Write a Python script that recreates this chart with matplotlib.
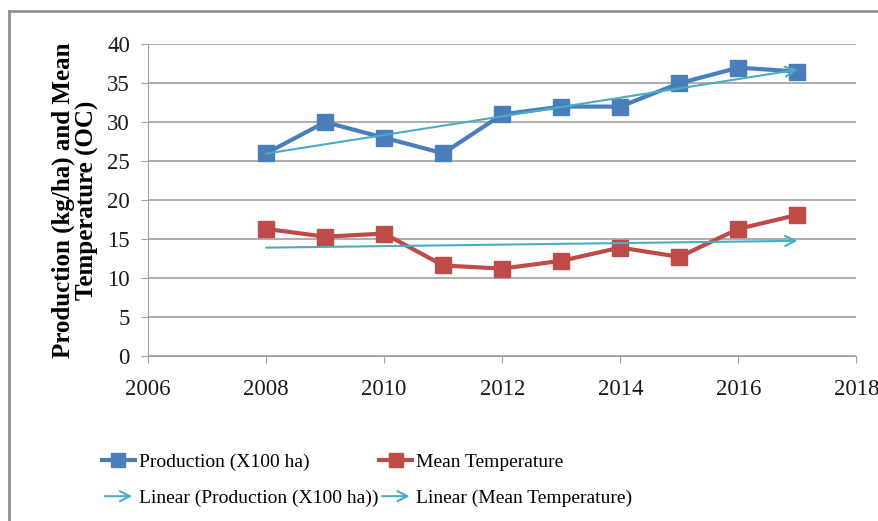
import matplotlib.pyplot as plt
import numpy as np
from matplotlib.legend_handler import HandlerBase
from matplotlib.lines import Line2D
from matplotlib.patches import FancyArrowPatch

years = [2008, 2009, 2010, 2011, 2012, 2013, 2014, 2015, 2016, 2017]
production = [26, 30, 28, 26, 31, 32, 32, 35, 37, 36.5]
temperature = [16.3, 15.3, 15.7, 11.6, 11.2, 12.2, 13.9, 12.7, 16.3, 18.1]

BLUE = "#4A7EBB"
RED = "#BE4B48"
TREND = "#4BACC6"

plt.rcParams["font.family"] = ["Liberation Serif", "DejaVu Serif"]


class HandlerArrow(HandlerBase):
    def create_artists(self, legend, orig_handle, xdescent, ydescent, width, height, fontsize, trans):
        y = height / 2 - ydescent
        arrow = FancyArrowPatch((-xdescent, y), (width - xdescent, y), arrowstyle="->",
                                mutation_scale=18, color=TREND, lw=1.5)
        arrow.set_transform(trans)
        return [arrow]


fig = plt.figure(figsize=(8.79, 5.21), dpi=100)
ax = fig.add_axes([0.1684, 0.317, 0.806, 0.598])

x = np.array(years)
ax.plot(x, production, color=BLUE, lw=3, marker="s", ms=11, zorder=3)
ax.plot(x, temperature, color=RED, lw=3, marker="s", ms=11, zorder=3)

# linear trendlines with arrow heads
for series in (production, temperature):
    k, b = np.polyfit(x, series, 1)
    ax.annotate("", xy=(x[-1], k * x[-1] + b), xytext=(x[0], k * x[0] + b),
                arrowprops=dict(arrowstyle="->", color=TREND, lw=1.5, mutation_scale=18,
                                shrinkA=0, shrinkB=0), zorder=4)

ax.set_xlim(2006, 2018)
ax.set_ylim(0, 40)
ax.set_xticks(range(2006, 2019, 2))
ax.set_yticks(range(0, 41, 5))
ax.yaxis.grid(True, color="#A0A0A0", lw=1.2)
ax.set_axisbelow(True)
for side in ("top", "right"):
    ax.spines[side].set_visible(False)
for side in ("left", "bottom"):
    ax.spines[side].set_color("#A0A0A0")
ax.tick_params(axis="both", labelsize=16.5, colors="#A0A0A0", labelcolor="#1a1a1a", length=5)
ax.tick_params(axis="x", pad=12)
ax.tick_params(axis="y", pad=8)
ax.set_ylabel("Production (kg/ha) and Mean\nTemperature (OC)", fontsize=18,
              fontweight="bold", labelpad=6, linespacing=1.0)

handles = [
    Line2D([], [], color=BLUE, lw=3, marker="s", ms=10),
    FancyArrowPatch((0, 0), (1, 0)),
    Line2D([], [], color=RED, lw=3, marker="s", ms=10),
    FancyArrowPatch((0, 0), (1, 0)),
]
labels = ["Production (X100 ha)", "Linear (Production (X100 ha))",
          "Mean Temperature", "Linear (Mean Temperature)"]
fig.legend(handles, labels, ncol=2, loc="upper left", bbox_to_anchor=(0.116, 0.130),
           frameon=False, fontsize=14, handlelength=1.7, handletextpad=0.2,
           columnspacing=0.05, labelspacing=0.95, borderaxespad=0, borderpad=0,
           handler_map={FancyArrowPatch: HandlerArrow()})

# outer chart border (top and left visible)
fig.add_artist(Line2D([0.010, 1.0], [0.979, 0.979], color="#909090", lw=2, transform=fig.transFigure))
fig.add_artist(Line2D([0.010, 0.010], [0.0, 0.979], color="#909090", lw=2, transform=fig.transFigure))

fig.savefig("out.png", dpi=100)
